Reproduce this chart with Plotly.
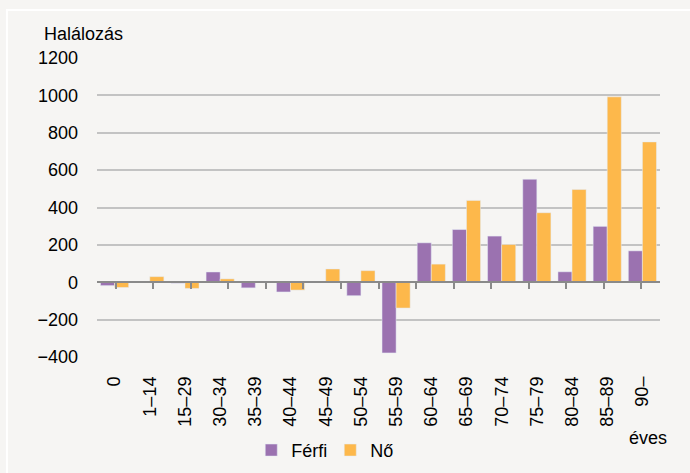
import plotly.graph_objects as go

# age groups and change in deaths (persons)
age_groups = ['0', '1–14', '15–29', '30–34', '35–39', '40–44', '45–49', '50–54',
              '55–59', '60–64', '65–69', '70–74', '75–79', '80–84', '85–89', '90–']
ferfi = [-18, 2, -5, 55, -30, -52, 2, -72, -378, 211, 282, 247, 551, 56, 299, 168]
no = [-28, 30, -33, 18, 5, -42, 71, 62, -138, 97, 438, 202, 372, 496, 992, 751]
y_ticks = [-400, -200, 0, 200, 400, 600, 800, 1000, 1200]
y_tick_text = ['−400', '−200', '0', '200', '400', '600', '800', '1000', '1200']

FONT = 'Liberation Sans, Arial, sans-serif'
BG = '#f6f5f3'

fig = go.Figure()
fig.add_trace(go.Bar(x=age_groups, y=ferfi, name='Férfi', marker_color='#9b72b0'))
fig.add_trace(go.Bar(x=age_groups, y=no, name='Nő', marker_color='#fdb84b'))
# invisible helper trace so the axis at zero gets its tick marks
fig.add_trace(go.Scatter(x=age_groups, y=[0] * len(age_groups), xaxis='x2',
                         mode='none', showlegend=False, hoverinfo='skip'))

fig.update_layout(
    width=690, height=473,
    margin=dict(l=97, r=30, t=58, b=116),
    paper_bgcolor=BG, plot_bgcolor=BG,
    font=dict(family=FONT, size=18, color='#000000'),
    barmode='group', bargap=0.2, bargroupgap=0,
    showlegend=True,
    legend=dict(orientation='h', x=0.274, xref='paper', y=0.087, yref='container',
                xanchor='left', yanchor='top',
                bgcolor='rgba(0,0,0,0)', itemwidth=30, entrywidth=34,
                font=dict(size=18), tracegroupgap=0),
    xaxis=dict(type='category', showgrid=False, showline=False, ticks='',
               tickangle=-90, ticklabelstandoff=15, zeroline=False, automargin=False),
    xaxis2=dict(type='category', overlaying='x', anchor='free', position=0.25,
                showline=True, linecolor='#8a8a8a', linewidth=2,
                ticks='outside', tickson='boundaries', ticklen=6, tickwidth=2,
                tickcolor='#8a8a8a', showticklabels=False, showgrid=False,
                side='bottom', automargin=False),
    yaxis=dict(range=[-400, 1200], tickvals=y_ticks, ticktext=y_tick_text,
               showgrid=True, gridcolor='#c3c3c3', gridwidth=1.5,
               zeroline=False, ticks='', ticklabelstandoff=18, showline=False,
               automargin=False),
    annotations=[
        dict(text='Halálozás', xref='paper', yref='paper', x=-0.097, y=1.08,
             xanchor='left', yanchor='middle', showarrow=False, font=dict(size=18)),
        dict(text='éves', xref='paper', yref='paper', x=0.978, y=-0.27,
             xanchor='center', yanchor='middle', showarrow=False, font=dict(size=18)),
    ],
    shapes=[
        dict(type='rect', xref='paper', yref='paper', x0=-0.16, x1=1.3, y0=-0.6, y1=1.1605,
             line=dict(color='#ffffff', width=2), layer='below'),
    ],
)

fig.write_html('out.html', config={'displayModeBar': False},
               post_script="document.body.style.margin='0';")
